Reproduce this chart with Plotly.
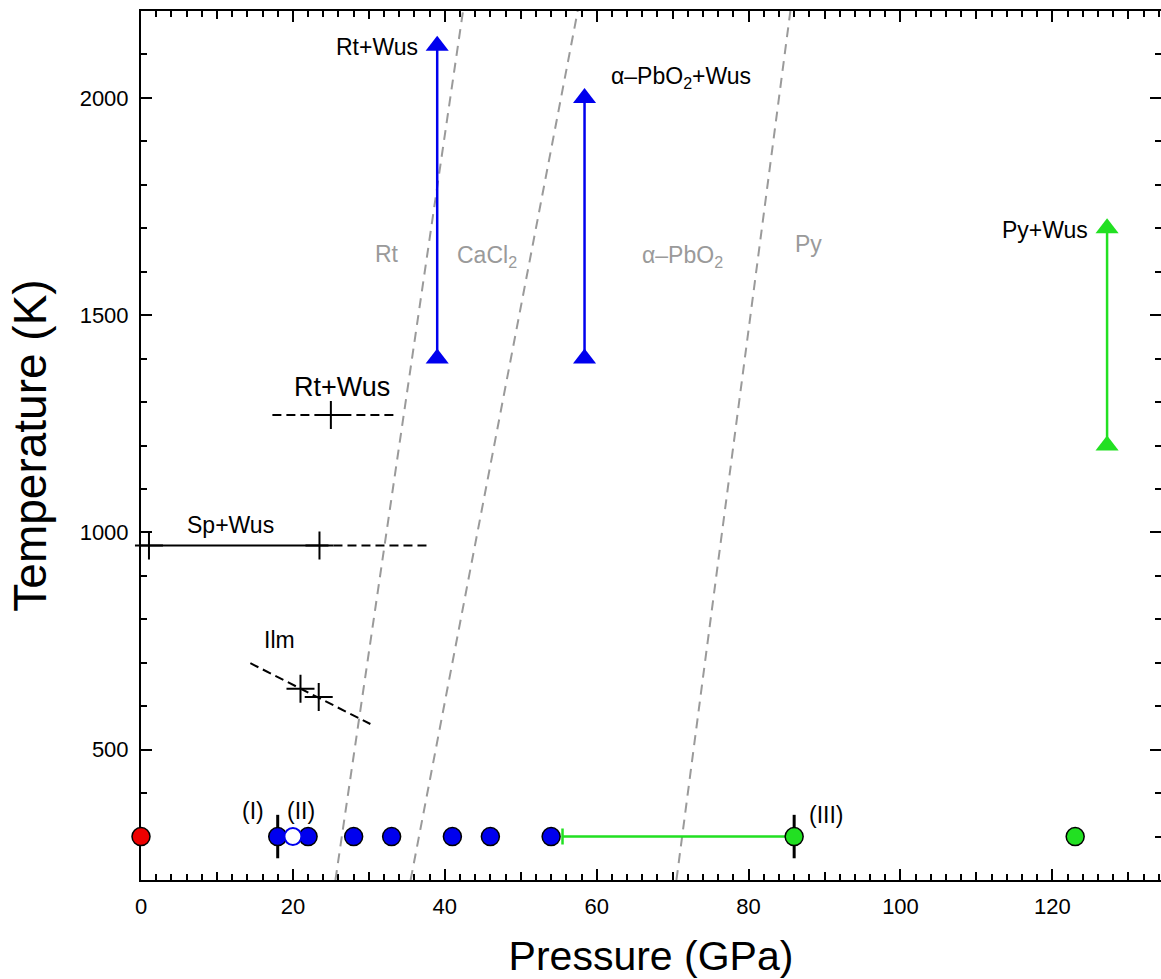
import plotly.graph_objects as go

# ---------------- data ----------------
# room-temperature points (T = 300 K)
red_P = [0]
red_T = [300]
blue_P = [18, 22, 28, 33, 41, 46, 54]
blue_T = [300, 300, 300, 300, 300, 300, 300]
open_P = [20]
open_T = [300]
green_P = [86, 123]
green_T = [300, 300]
bar_P = [18, 86]
bar_T = [300, 300]
bar_err = [50, 50]
green_range_minus = [30.5, 0]

# arrows (high-temperature runs)
arrow_P = [39, 58.4, 127.2]
arrow_T_low = [1400, 1400, 1200]
arrow_T_high = [2120, 2000, 1700]
arrow_colors = ["#0000ee", "#0000ee", "#22e022"]

# phase boundaries (gray dashed)
bound_T = [200, 2200]
bound_P_low = [25.6, 35.5, 70.5]
bound_P_high = [42.4, 57.5, 85.5]

# Rt+Wus reaction line
rtw_P = [17.3, 33.4]
rtw_T = [1270, 1270]
rtw_cross_P = [25]
rtw_cross_T = [1270]

# Sp+Wus reaction line
sp_solid_P = [0, 23.5]
sp_dash_P = [23.5, 38.2]
sp_T = [970, 970]
sp_cross_P = [1.05, 23.5]
sp_cross_T = [970, 970]

# Ilmenite line
ilm_P = [14.4, 30.2]
ilm_T = [699, 559]
ilm_cross_P = [21, 23.4]
ilm_cross_T = [640, 621]

x_ticks = [0, 20, 40, 60, 80, 100, 120]
x_mid_ticks = [10, 30, 50, 70, 90, 110, 130]
y_ticks = [500, 1000, 1500, 2000]

FONT = "Liberation Sans, Arial, sans-serif"
GRAY = "#9a9a9a"
BDASH = "9px,5px"
GDASH = "10px,7px"

fig = go.Figure()

# phase boundaries
for p0, p1 in zip(bound_P_low, bound_P_high):
    fig.add_trace(go.Scatter(x=[p0, p1], y=bound_T, mode="lines",
                             line=dict(color=GRAY, width=2, dash=GDASH)))

# black reaction lines
fig.add_trace(go.Scatter(x=rtw_P, y=rtw_T, mode="lines",
                         line=dict(color="black", width=2, dash=BDASH)))
fig.add_trace(go.Scatter(x=sp_solid_P, y=sp_T, mode="lines",
                         line=dict(color="black", width=2)))
fig.add_trace(go.Scatter(x=sp_dash_P, y=sp_T, mode="lines",
                         line=dict(color="black", width=2, dash=BDASH)))
fig.add_trace(go.Scatter(x=ilm_P, y=ilm_T, mode="lines",
                         line=dict(color="black", width=2, dash=BDASH)))
# crosses
for cp, ct in [(rtw_cross_P, rtw_cross_T), (sp_cross_P, sp_cross_T), (ilm_cross_P, ilm_cross_T)]:
    fig.add_trace(go.Scatter(x=cp, y=ct, mode="markers", cliponaxis=False,
                             marker=dict(symbol="cross-thin", size=20,
                                         line=dict(color="black", width=2))))

# arrows
for p, tl, th, c in zip(arrow_P, arrow_T_low, arrow_T_high, arrow_colors):
    fig.add_trace(go.Scatter(x=[p, p], y=[tl, th], mode="lines+markers",
                             line=dict(color=c, width=2.5),
                             marker=dict(symbol="triangle-up", size=20, color=c)))

# black vertical bars
fig.add_trace(go.Scatter(x=bar_P, y=bar_T, mode="markers",
                         marker=dict(size=1, color="rgba(0,0,0,0)"),
                         error_y=dict(type="data", array=bar_err, color="black",
                                      thickness=3, width=0)))
# green range
fig.add_trace(go.Scatter(x=[green_P[0]], y=[green_T[0]], mode="markers",
                         marker=dict(size=1, color="rgba(0,0,0,0)"),
                         error_x=dict(type="data", symmetric=False, array=[0],
                                      arrayminus=[green_range_minus[0]],
                                      color="#22e022", thickness=2.5, width=8)))

# circles
fig.add_trace(go.Scatter(x=red_P, y=red_T, mode="markers", cliponaxis=False,
                         marker=dict(size=18, color="#ee0000",
                                     line=dict(color="black", width=1.5))))
fig.add_trace(go.Scatter(x=blue_P, y=blue_T, mode="markers",
                         marker=dict(size=18, color="#0000ee",
                                     line=dict(color="black", width=1.5))))
fig.add_trace(go.Scatter(x=open_P, y=open_T, mode="markers",
                         marker=dict(size=17, color="white",
                                     line=dict(color="#0000ee", width=2))))
fig.add_trace(go.Scatter(x=green_P, y=green_T, mode="markers",
                         marker=dict(size=18, color="#22e022",
                                     line=dict(color="black", width=1.5))))

# invisible trace to activate the medium-tick overlay axis
fig.add_trace(go.Scatter(x=x_mid_ticks, y=[None] * len(x_mid_ticks),
                         xaxis="x2", yaxis="y", mode="markers", hoverinfo="skip"))

ann = []
def txt(x, y, s, size=23, color="black", xanchor="center"):
    ann.append(dict(x=x, y=y, text=s, showarrow=False, xanchor=xanchor, yanchor="middle",
                    font=dict(family=FONT, size=size, color=color)))

txt(36.8, 2117, "Rt+Wus", xanchor="right")
txt(61.6, 2048, "α–PbO<sub>2</sub>+Wus", xanchor="left")
txt(124.9, 1696, "Py+Wus", xanchor="right")
txt(32.4, 1641, "Rt", color=GRAY)
txt(41.3, 1636, "CaCl<sub>2</sub>", color=GRAY, xanchor="left")
txt(65.7, 1636, "α–PbO<sub>2</sub>", color=GRAY, xanchor="left")
txt(85.9, 1664, "Py", color=GRAY, xanchor="left")
txt(26.5, 1335, "Rt+Wus", size=27)
txt(11.8, 1017, "Sp+Wus")
txt(18.2, 752, "Ilm")
txt(14.7, 359, "(I)")
txt(21.1, 359, "(II)")
txt(90.3, 350, "(III)")

axis_common = dict(showline=True, linecolor="black", linewidth=2, mirror="ticks",
                   ticks="inside", ticklen=11, tickwidth=1.5, tickcolor="black",
                   showgrid=False, zeroline=False, layer="below traces",
                   tickfont=dict(family=FONT, size=22, color="black"))

fig.update_layout(
    width=1161, height=979,
    margin=dict(l=141, r=0, t=11, b=99),
    paper_bgcolor="white", plot_bgcolor="white",
    showlegend=False,
    annotations=ann,
    xaxis=dict(range=[0, 134.3], tickvals=x_ticks,
               minor=dict(dtick=2, tick0=0, ticks="inside", ticklen=6,
                          tickwidth=1.5, tickcolor="black"),
               title=dict(text="Pressure (GPa)", font=dict(family=FONT, size=41, color="black"),
                          standoff=27),
               automargin=False, ticklabelstandoff=6,
               **axis_common),
    xaxis2=dict(range=[0, 134.3], overlaying="x", anchor="y", side="bottom",
                tickvals=x_mid_ticks, ticks="inside", ticklen=8, tickwidth=1.5,
                tickcolor="black", showticklabels=False, showline=False,
                mirror="ticks", showgrid=False, zeroline=False),
    yaxis=dict(range=[200, 2200], tickvals=y_ticks,
               minor=dict(dtick=100, tick0=0, ticks="inside", ticklen=6,
                          tickwidth=1.5, tickcolor="black"),
               title=dict(text="Temperature (K)", font=dict(family=FONT, size=46, color="black"),
                          standoff=19),
               automargin=False, ticklabelstandoff=6,
               **axis_common),
)

fig.write_html("out.html")
